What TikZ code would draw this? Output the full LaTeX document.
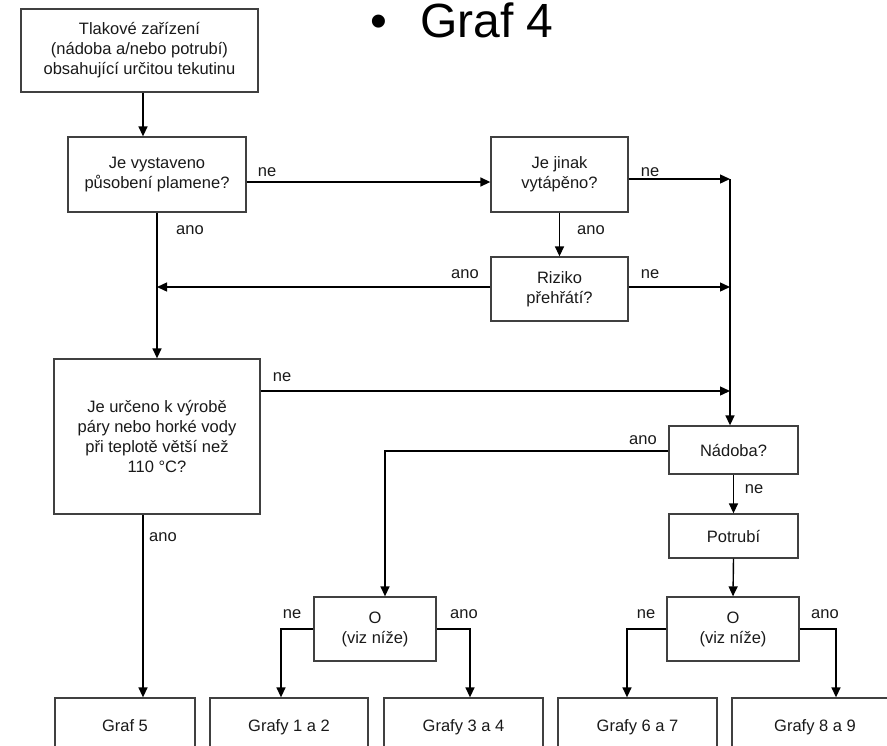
\documentclass[tikz,border=0pt]{standalone}
\usepackage{fontspec}
\setmainfont{Liberation Sans}
\usetikzlibrary{arrows.meta}

\begin{document}
\begin{tikzpicture}[x=1pt, y=-1pt,
	box/.style={draw=black!75, line width=1.3pt, align=center, inner sep=2pt, text=black!90, font=\fontsize{16.5}{20}\selectfont},
	grafbox/.style={box, minimum height=58pt, text height=12pt, text depth=3.5pt},
	lbl/.style={inner sep=0pt, text=black!90, font=\fontsize{16.5}{20}\selectfont},
	spoj/.style={line width=1.4pt},
	sip/.style={spoj, -{Triangle[length=10pt, width=9pt]}}]
	\useasboundingbox (0,0) rectangle (887,745);
	\clip (0,0) rectangle (887,745);

	\node[anchor=base west, inner sep=0pt, font=\fontsize{48}{48}\selectfont] (odrazka) at (370,37) {•};
	\node[anchor=base west, inner sep=0pt, font=\fontsize{48}{48}\selectfont] (nadpis) at (420,37) {Graf 4};

	% boxes
	\node[box, minimum width=237pt, minimum height=83pt] (zarizeni) at (139.5,50.5) {Tlakové zařízení\\(nádoba a/nebo potrubí)\\obsahující určitou tekutinu};
	\node[box, minimum width=178pt, minimum height=75pt] (plamen) at (157,174.5) {Je vystaveno\\působení plamene?};
	\node[box, minimum width=137pt, minimum height=75pt] (vytapeno) at (559.5,174.5) {Je jinak\\vytápěno?};
	\node[box, minimum width=137pt, minimum height=64pt] (riziko) at (559.5,289) {Riziko\\přehřátí?};
	\node[box, minimum width=206pt, minimum height=155pt] (vyroba) at (157,436.5) {Je určeno k výrobě\\páry nebo horké vody\\při teplotě větší než\\110 °C?};
	\node[box, minimum width=129pt, minimum height=48pt] (nadoba) at (733.5,450) {Nádoba?};
	\node[box, minimum width=129pt, minimum height=44pt] (potrubi) at (733.5,536) {Potrubí};
	\node[box, minimum width=122pt, minimum height=64pt] (oleft) at (375,629) {O\\(viz níže)};
	\node[box, minimum width=132pt, minimum height=64pt] (oright) at (733,629) {O\\(viz níže)};

	\node[grafbox, minimum width=140pt] (graf5) at (125,727) {Graf 5};
	\node[grafbox, minimum width=158pt] (grafy12) at (289,727) {Grafy 1 a 2};
	\node[grafbox, minimum width=159pt] (grafy34) at (463.5,727) {Grafy 3 a 4};
	\node[grafbox, minimum width=159pt] (grafy67) at (637.5,727) {Grafy 6 a 7};
	\node[grafbox, minimum width=166pt] (grafy89) at (815,727) {Grafy 8 a 9};

	% connectors
	\coordinate (j1) at (730,179);
	\coordinate (z1) at ([xshift=3.5pt]zarizeni.south);
	\draw[sip] (z1) -- (z1 |- plamen.north);
	\coordinate (p1) at ([yshift=-7.5pt]plamen.east);
	\draw[sip] (p1) -- (p1 -| vytapeno.west);
	\coordinate (v1) at ([yshift=-4.5pt]vytapeno.east);
	\draw[sip] (v1) -- (v1 -| j1);
	\draw[sip] (j1) -- (j1 |- nadoba.north);
	\draw[sip] (vytapeno.south) -- (riziko.north);
	\coordinate (r1) at ([yshift=2pt]riziko.west);
	\draw[sip] (r1) -- (r1 -| plamen.south);
	\draw[sip] (r1 -| riziko.east) -- (r1 -| j1);
	\draw[sip] (plamen.south) -- (vyroba.north);
	\coordinate (v2) at ([yshift=45.5pt]vyroba.east);
	\draw[sip] (v2) -- (v2 -| j1);
	\coordinate (v3) at ([xshift=-14pt]vyroba.south);
	\draw[sip] (v3) -- (v3 |- graf5.north);

	\coordinate (n1) at ([yshift=-1pt]nadoba.west);
	\coordinate (o1) at ([xshift=10pt]oleft.north);
	\draw[sip] (n1) -| (o1);
	\draw[sip] (nadoba.south) -- (potrubi.north);
	\draw[sip] (potrubi.south) -- (oright.north);

	\coordinate (g12) at ([xshift=-8pt]grafy12.north);
	\coordinate (g34) at ([xshift=6.5pt]grafy34.north);
	\coordinate (g67) at ([xshift=-10.5pt]grafy67.north);
	\coordinate (g89) at ([xshift=21pt]grafy89.north);
	\draw[sip] (oleft.west) -| (g12);
	\draw[sip] (oleft.east) -| (g34);
	\draw[sip] (oright.west) -| (g67);
	\draw[sip] (oright.east) -| (g89);

	% labels
	\node[lbl] (ne1) at (267,172) {ne};
	\node[lbl] (ano1) at (190,230) {ano};
	\node[lbl] (ne2) at (650,172) {ne};
	\node[lbl] (ano2) at (591,230) {ano};
	\node[lbl] (ano3) at (465,274) {ano};
	\node[lbl] (ne3) at (650,274) {ne};
	\node[lbl] (ne4) at (282,377) {ne};
	\node[lbl] (ano4) at (163,537) {ano};
	\node[lbl] (ano5) at (643,440) {ano};
	\node[lbl] (ne5) at (754,489) {ne};
	\node[lbl] (ne6) at (292,614) {ne};
	\node[lbl] (ano6) at (464,614) {ano};
	\node[lbl] (ne7) at (646,614) {ne};
	\node[lbl] (ano7) at (825,614) {ano};
\end{tikzpicture}
\end{document}
